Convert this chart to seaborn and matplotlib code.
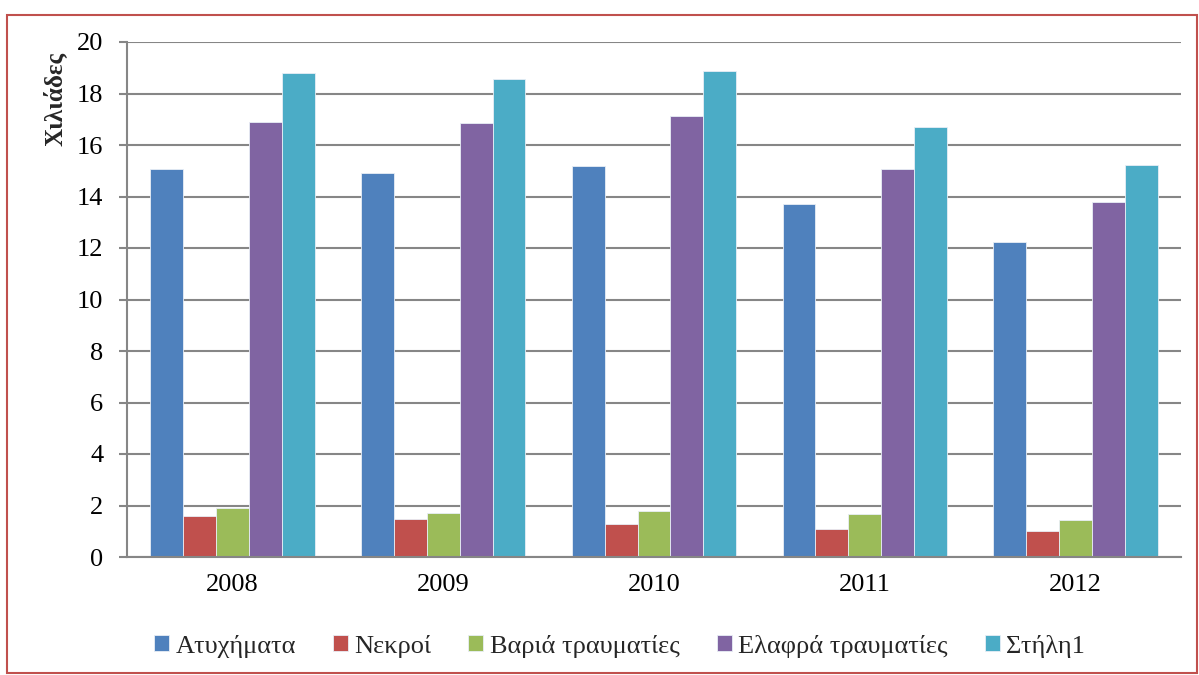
import matplotlib
matplotlib.use("Agg")
import matplotlib.pyplot as plt
import seaborn as sns
import pandas as pd
from matplotlib.patches import Rectangle

years = ["2008", "2009", "2010", "2011", "2012"]
series_names = ["Ατυχήματα", "Νεκροί", "Βαριά τραυματίες", "Ελαφρά τραυματίες", "Στήλη1"]
atyximata = [15.07, 14.91, 15.18, 13.71, 12.23]
nekroi = [1.58, 1.46, 1.28, 1.10, 1.00]
baria = [1.89, 1.70, 1.77, 1.67, 1.45]
elafra = [16.89, 16.85, 17.13, 15.05, 13.80]
stili1 = [18.80, 18.56, 18.87, 16.71, 15.22]
colors = ["#4F81BD", "#C0504D", "#9BBB59", "#8064A2", "#4BACC6"]

values = [atyximata, nekroi, baria, elafra, stili1]
rows = []
for name, vals in zip(series_names, values):
    for y, v in zip(years, vals):
        rows.append({"year": y, "series": name, "value": v})
df = pd.DataFrame(rows)

sns.set_theme(style="white")
plt.rcParams["font.family"] = ["Liberation Serif", "DejaVu Serif"]

fig = plt.figure(figsize=(11.99, 6.75), dpi=100)
ax = fig.add_axes([127/1199, 1-557/675, (1181-127)/1199, (557-42)/675])

sns.barplot(data=df, x="year", y="value", hue="series", order=years,
            hue_order=series_names, palette=colors, saturation=1, width=0.78,
            edgecolor="#e8eef6", linewidth=0.6, ax=ax, legend=True)

ax.set_ylim(0, 20)
ax.set_xlim(-0.5, 4.5)
ax.set_yticks(range(0, 21, 2))
ax.yaxis.grid(True, color="#868686", linewidth=1.5)
ax.set_axisbelow(True)
for s in ["top", "right"]:
    ax.spines[s].set_visible(False)
for s in ["left", "bottom"]:
    ax.spines[s].set_color("#868686")
    ax.spines[s].set_linewidth(1.5)

ax.set_xticks([-0.5, 0.5, 1.5, 2.5, 3.5, 4.5], minor=True)
ax.tick_params(axis="x", which="major", length=0, labelsize=19, pad=12, colors="black")
ax.tick_params(axis="x", which="minor", length=6, width=1.5, color="#868686", direction="out")
ax.tick_params(axis="y", which="major", length=6, width=1.5, color="#868686",
               direction="out", labelsize=19, pad=11, left=True, labelcolor="black")
ax.set_xlabel("")
ax.set_ylabel("Χιλιάδες", fontsize=18, fontweight="bold")
ax.yaxis.set_label_coords(-0.057, 0.89)

handles, labels = ax.get_legend_handles_labels()
ax.legend_.remove()
fig.legend(handles, labels, loc="center", bbox_to_anchor=(0.5 + 20/1199, 1-646/675), ncol=5,
           frameon=False, fontsize=19, handlelength=0.57, handleheight=0.57,
           handletextpad=0.25, columnspacing=1.4)

fig.patches.append(Rectangle((7/1199, 2/675), (1197-7)/1199, (673-15)/675,
                             transform=fig.transFigure, fill=False,
                             edgecolor="#C0504D", linewidth=1.5))

fig.savefig("out.png", dpi=100)
